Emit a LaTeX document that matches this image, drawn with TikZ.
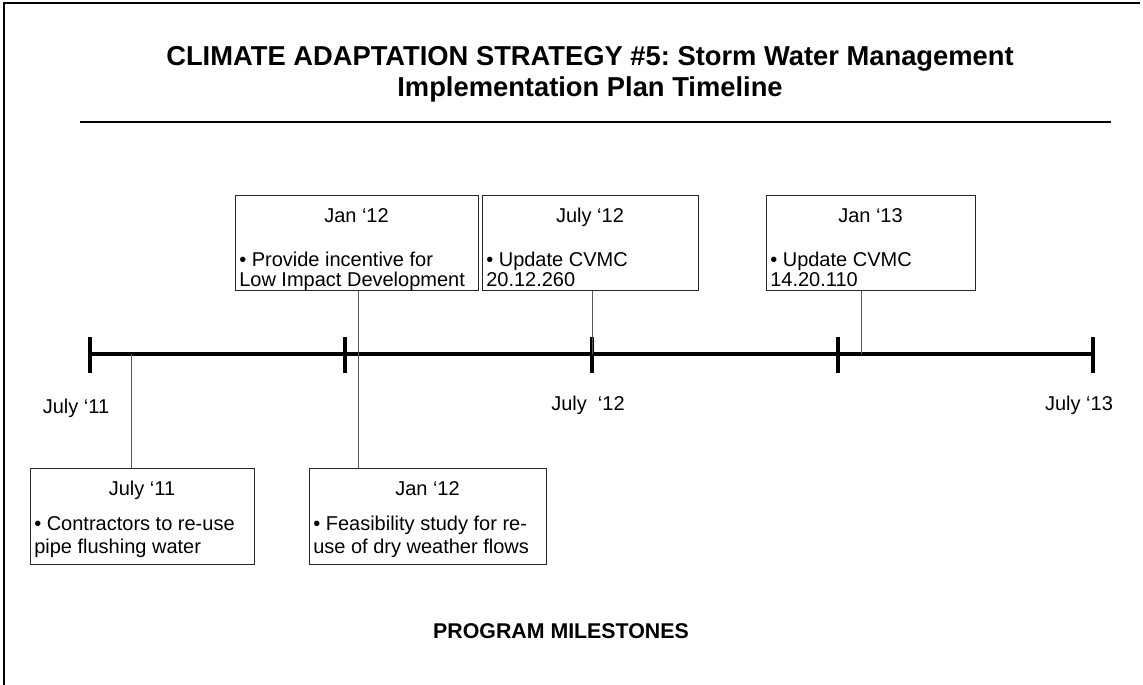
\documentclass[tikz,border=0pt]{standalone}
\usepackage{fontspec}
\setmainfont{Liberation Sans}
\usepackage{tikz}
\usetikzlibrary{calc}
\frenchspacing

\begin{document}
\begin{tikzpicture}[x=0.75pt,y=0.75pt,yscale=-1,xscale=1,
        headline/.style={anchor=base, inner sep=0pt, font=\fontsize{20.5}{23}\selectfont\bfseries},
        msbox/.style={draw=black!85, line width=0.75pt, inner sep=0pt, anchor=north west, minimum height=71.25pt},
        msdate/.style={anchor=base, inner sep=0pt, font=\fontsize{15}{15}\selectfont},
        mstext/.style={anchor=base west, inner sep=0pt, align=left, font=\fontsize{15}{15}\selectfont},
        axlabel/.style={anchor=base, inner sep=0pt, font=\fontsize{15}{15}\selectfont},
        link/.style={draw=black!65, line width=0.75pt},
        axisline/.style={line width=3.6pt},
        tickline/.style={line width=3pt}]
        \useasboundingbox (0,0) rectangle (1143,685);

        % frame
        \draw [line width=1.5pt] (4,685) -- (4,3) -- (1140,3);

        % Title
        \node [headline] (ttlA) at (590,66) {CLIMATE ADAPTATION STRATEGY \#5: Storm Water Management};
        \node [headline] (ttlB) at (590,97) {Implementation Plan Timeline};
        \draw [line width=1.1pt] (80,122) -- (1111,122);

        % Time axis
        \foreach \x [count=\i] in {90,345,592,838,1093}
            \coordinate (t\i) at (\x,354);
        \draw [axisline] (t1) -- (t5);
        \foreach \i in {1,...,5}
            \draw [tickline] (t\i) ++(0,-17) -- ++(0,36);

        % Axis labels
        \node [axlabel] (lbA) at (76,413) {July ‘11};
        \node [axlabel] (lbB) at (588,410) {July\ \ ‘12};
        \node [axlabel] (lbC) at (1079,410) {July ‘13};

        % Milestones above the axis (base = last line)
        \node [msbox, minimum width=182.25pt] (upA) at (235,195) {};
        \node [msdate] (upAd) at (356.5,222) {Jan ‘12};
        \node [mstext] (upAt) at (239,286) {• Provide incentive for\\Low Impact Development};

        \node [msbox, minimum width=162pt] (upB) at (482,195) {};
        \node [msdate] (upBd) at (590,222) {July ‘12};
        \node [mstext] (upBt) at (486,286) {• Update CVMC\\20.12.260};

        \node [msbox, minimum width=156.75pt] (upC) at (766,195) {};
        \node [msdate] (upCd) at (870.5,222) {Jan ‘13};
        \node [mstext] (upCt) at (770,286) {• Update CVMC\\14.20.110};

        % Milestones below the axis
        \node [msbox, minimum width=168pt, minimum height=72pt] (lowE) at (30,468) {};
        \node [msdate] (lowEd) at (142,495) {July ‘11};
        \node [mstext, font=\fontsize{15}{17.25}\selectfont] (lowEt) at (34,553) {• Contractors to re-use\\pipe flushing water};

        \node [msbox, minimum width=177.75pt, minimum height=72pt] (lowD) at (309,468) {};
        \node [msdate] (lowDd) at (427.5,495) {Jan ‘12};
        \node [mstext, font=\fontsize{15}{17.25}\selectfont] (lowDt) at (313,553) {• Feasibility study for re-\\use of dry weather flows};

        % Connectors
        \coordinate (pA) at (358,354);
        \coordinate (pC) at (861,354);
        \coordinate (pE) at (131,354);
        \draw [link] (upA.south -| pA) -- (lowD.north -| pA);
        \draw [link] (upB.south -| t3) -- (t3);
        \draw [link] (upC.south -| pC) -- (pC);
        \draw [link] (pE) -- (lowE.north -| pE);

        % Footer
        \node [headline, font=\fontsize{16}{18}\selectfont\bfseries] (foot) at (561,638) {PROGRAM MILESTONES};
\end{tikzpicture}
\end{document}
